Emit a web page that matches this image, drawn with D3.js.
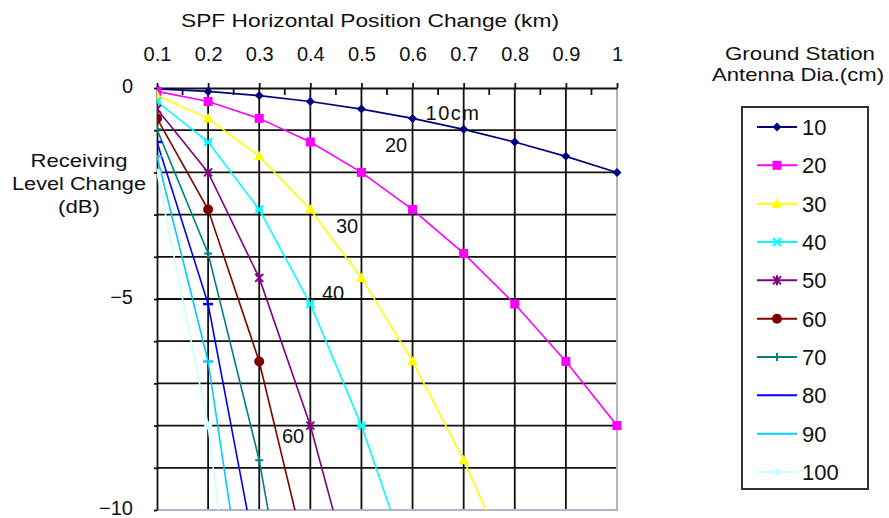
<!DOCTYPE html>
<html>
<head>
<meta charset="utf-8">
<script src="https://cdn.jsdelivr.net/npm/d3@7/dist/d3.min.js"></script>
<style>
  html, body { margin: 0; padding: 0; background: #fff; }
  svg { display: block; }
  text { font-family: "Liberation Sans", Arial, sans-serif; fill: #111; }
</style>
</head>
<body>
<svg id="chart" width="889" height="518"></svg>
<script>
// Horizontal position change of the SPF (km)
const positions = ["0.1", "0.2", "0.3", "0.4", "0.5", "0.6", "0.7", "0.8", "0.9", "1"];

// Ground station antenna diameters (cm)
const diameters = [10, 20, 30, 40, 50, 60, 70, 80, 90, 100];

// Receiving level change (dB) per antenna diameter, one value per position
const level10  = [-0.02, -0.08, -0.18, -0.32, -0.5, -0.72, -0.98, -1.28, -1.62, -2.0];
const level20  = [-0.08, -0.32, -0.72, -1.28, -2.0, -2.88, -3.92, -5.12, -6.48, -8.0];
const level30  = [-0.18, -0.72, -1.62, -2.88, -4.5, -6.48, -8.82, -11.52];
const level40  = [-0.32, -1.28, -2.88, -5.12, -8.0, -11.52];
const level50  = [-0.5, -2.0, -4.5, -8.0, -12.5];
const level60  = [-0.72, -2.88, -6.48, -11.52];
const level70  = [-0.98, -3.92, -8.82, -15.68];
const level80  = [-1.28, -5.12, -11.52];
const level90  = [-1.62, -6.48, -14.58];
const level100 = [-2.0, -8.0, -18.0];

const levels = [level10, level20, level30, level40, level50, level60, level70, level80, level90, level100];
const colors = ["#000080", "#ff00ff", "#ffff00", "#00ffff", "#800080", "#800000", "#008080", "#0000ff", "#00ccff", "#ccffff"];
const markers = ["diamond", "square", "triangle", "cross", "star", "circle", "plus", "dash", "dash", "diamond"];

// Curve annotations
const curveLabels = ["10cm", "20", "30", "40", "60"];
const yTicks = [0, -5, -10];

const svg = d3.select("#chart");
const plot = { left: 157, right: 617, top: 88, bottom: 510 };

const x = d3.scalePoint().domain(positions).range([plot.left, plot.right]);
const y = d3.scaleLinear().domain([0, -10]).range([plot.top, plot.bottom]);

// Grid
const grid = svg.append("g");
grid.selectAll("line.h").data(d3.range(-1, -10, -1)).join("line")
  .attr("x1", plot.left).attr("x2", plot.right)
  .attr("y1", d => y(d)).attr("y2", d => y(d))
  .attr("stroke", "#111").attr("stroke-width", 1.8);
grid.selectAll("line.v").data(positions.slice(1, -1)).join("line")
  .attr("x1", d => x(d)).attr("x2", d => x(d))
  .attr("y1", plot.top).attr("y2", plot.bottom)
  .attr("stroke", "#111").attr("stroke-width", 1.8);

// Right and bottom plot border
svg.append("path")
  .attr("d", `M${plot.right},${plot.top}V${plot.bottom}H${plot.left}`)
  .attr("fill", "none").attr("stroke", "#b4b4c8").attr("stroke-width", 2);

// Top (category) axis
const xAxis = svg.append("g").attr("transform", `translate(0,${plot.top})`)
  .call(d3.axisTop(x).tickSize(5).tickPadding(22).tickSizeOuter(0));
xAxis.select(".domain").attr("stroke", "#111").attr("stroke-width", 1.8);
xAxis.selectAll(".tick line").attr("stroke", "#111").attr("stroke-width", 1.8);
xAxis.selectAll(".tick text").attr("font-size", 20).attr("font-family", "Liberation Sans, Arial, sans-serif").attr("fill", "#111");
// minor ticks between categories
svg.append("g").selectAll("line").data(d3.pairs(positions)).join("line")
  .attr("x1", d => (x(d[0]) + x(d[1])) / 2).attr("x2", d => (x(d[0]) + x(d[1])) / 2)
  .attr("y1", plot.top).attr("y2", plot.top + 7)
  .attr("stroke", "#111").attr("stroke-width", 1.8);

// Left (value) axis
const yAxis = svg.append("g").attr("transform", `translate(${plot.left},0)`)
  .call(d3.axisLeft(y).tickValues(d3.range(0, -11, -1)).tickSize(3).tickPadding(21).tickSizeOuter(0)
    .tickFormat(d => yTicks.includes(d) ? d3.format("d")(d) : ""));
yAxis.select(".domain").attr("stroke", "#111").attr("stroke-width", 1.8);
yAxis.selectAll(".tick line").attr("stroke", "#111").attr("stroke-width", 1.8);
yAxis.selectAll(".tick text").attr("font-size", 20).attr("dy", "0.22em")
  .attr("font-family", "Liberation Sans, Arial, sans-serif").attr("fill", "#111");

// Axis titles
svg.append("text").attr("x", 370).attr("y", 27).attr("text-anchor", "middle")
  .attr("font-size", 19).attr("textLength", 378).attr("lengthAdjust", "spacingAndGlyphs")
  .text("SPF Horizontal Position Change (km)");
const yTitle = ["Receiving", "Level Change", "(dB)"];
const yTitleWidth = [97, 134, 42];
svg.append("g").selectAll("text").data(yTitle).join("text")
  .attr("x", 79).attr("y", (d, i) => 167 + i * 23).attr("text-anchor", "middle")
  .attr("font-size", 18).attr("textLength", (d, i) => yTitleWidth[i])
  .attr("lengthAdjust", "spacingAndGlyphs").text(d => d);

// Series
svg.append("clipPath").attr("id", "plotClip").append("rect")
  .attr("x", plot.left).attr("y", plot.top - 6)
  .attr("width", plot.right - plot.left + 6).attr("height", plot.bottom - plot.top + 6);

const line = d3.line().x((d, i) => x(positions[i])).y(d => y(d));

function drawMarker(g, type, color, cx, cy) {
  const s = 4.5;
  if (type === "diamond") {
    g.append("path").attr("d", `M${cx},${cy - s}L${cx + s},${cy}L${cx},${cy + s}L${cx - s},${cy}Z`).attr("fill", color);
  } else if (type === "square") {
    g.append("rect").attr("x", cx - 4.5).attr("y", cy - 4.5).attr("width", 9).attr("height", 9).attr("fill", color);
  } else if (type === "triangle") {
    g.append("path").attr("d", `M${cx},${cy - 5.5}L${cx + 5.5},${cy + 4}L${cx - 5.5},${cy + 4}Z`).attr("fill", color);
  } else if (type === "cross") {
    g.append("path").attr("d", `M${cx - 4},${cy - 4}L${cx + 4},${cy + 4}M${cx + 4},${cy - 4}L${cx - 4},${cy + 4}M${cx - 4},${cy}H${cx + 4}`)
      .attr("stroke", color).attr("stroke-width", 2).attr("fill", "none");
  } else if (type === "star") {
    g.append("path").attr("d", `M${cx - 4},${cy - 4}L${cx + 4},${cy + 4}M${cx + 4},${cy - 4}L${cx - 4},${cy + 4}M${cx},${cy - 5}V${cy + 5}`)
      .attr("stroke", color).attr("stroke-width", 2).attr("fill", "none");
  } else if (type === "circle") {
    g.append("circle").attr("cx", cx).attr("cy", cy).attr("r", 5).attr("fill", color);
  } else if (type === "plus") {
    g.append("path").attr("d", `M${cx - 4},${cy}H${cx + 4}M${cx},${cy - 4}V${cy + 4}`)
      .attr("stroke", color).attr("stroke-width", 2).attr("fill", "none");
  } else if (type === "dash") {
    g.append("path").attr("d", `M${cx - 5},${cy}H${cx + 5}`)
      .attr("stroke", color).attr("stroke-width", 2.5).attr("fill", "none");
  }
}

const seriesG = svg.append("g").attr("clip-path", "url(#plotClip)");
levels.forEach((vals, k) => {
  const g = seriesG.append("g");
  g.append("path").datum(vals).attr("d", line)
    .attr("fill", "none").attr("stroke", colors[k]).attr("stroke-width", 1.6);
  vals.forEach((v, i) => {
    if (v >= -10) drawMarker(g, markers[k], colors[k], x(positions[i]), y(v));
  });
});

// Curve annotations
const labelPos = [[453, 120], [396, 152], [347, 233], [333, 300], [293, 443]];
svg.append("g").selectAll("text").data(curveLabels).join("text")
  .attr("x", (d, i) => labelPos[i][0]).attr("y", (d, i) => labelPos[i][1])
  .attr("text-anchor", "middle").attr("font-size", 20)
  .attr("letter-spacing", (d, i) => i === 0 ? 1.5 : 0)
  .text(d => d);

// Legend
svg.append("text").attr("x", 800).attr("y", 60).attr("text-anchor", "middle")
  .attr("font-size", 19).attr("textLength", 150).attr("lengthAdjust", "spacingAndGlyphs").text("Ground Station");
svg.append("text").attr("x", 798).attr("y", 81).attr("text-anchor", "middle")
  .attr("font-size", 19).attr("textLength", 172).attr("lengthAdjust", "spacingAndGlyphs").text("Antenna Dia.(cm)");

svg.append("rect").attr("x", 742).attr("y", 107).attr("width", 126).attr("height", 382)
  .attr("fill", "#fff").attr("stroke", "#333").attr("stroke-width", 2);

const ly = d3.scalePoint().domain(diameters).range([127, 472]);
diameters.forEach((dia, k) => {
  const g = svg.append("g");
  const cy = ly(dia);
  g.append("line").attr("x1", 757).attr("x2", 797).attr("y1", cy).attr("y2", cy)
    .attr("stroke", colors[k]).attr("stroke-width", 2);
  if (markers[k] !== "dash") drawMarker(g, markers[k], colors[k], 777, cy);
  g.append("text").attr("x", 802).attr("y", cy + 8).attr("font-size", 22).text(dia);
});
</script>
</body>
</html>
